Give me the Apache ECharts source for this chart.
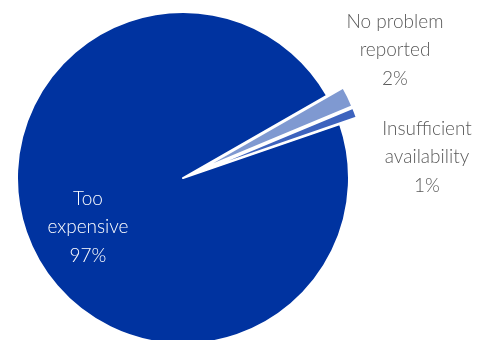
<!DOCTYPE html>
<html>
<head>
<meta charset="utf-8">
<script src="https://cdn.jsdelivr.net/npm/echarts@6/dist/echarts.min.js"></script>
<style>
  html, body { margin: 0; padding: 0; background: #fff; }
  #main { width: 482px; height: 340px; }
</style>
</head>
<body>
<div id="main"></div>
<script>
// categories and shares (%)
var aName = ['Too\nexpensive', 'No problem\nreported', 'Insufficient\navailability'];
var aValue = [97, 2, 1];
var aColor = ['#0033a0', '#7f99d1', '#3d63be'];

// where each label sits (text block centre)
var aLabelPos = [[88, 227], [395, 50], [427, 157]];

var oChart = echarts.init(document.getElementById('main'));

// slices: the two small ones are pulled out
var aSlice = [];
// labels: same values on an invisible twin pie, so the pulled out state does not move them
var aText = [];
for (var i = 0; i < aName.length; i++) {
    aSlice.push({
        name: aName[i],
        value: aValue[i],
        selected: i > 0,
        itemStyle: { color: aColor[i] }
    });
    aText.push({
        name: aName[i],
        value: aValue[i],
        label: { color: i == 0 ? '#ffffff' : '#5a5a5a' }
    });
}

var chartopt = {
    animation: false,
    series: [{
        type: 'pie',
        center: [183, 178],
        radius: 166,
        startAngle: 19,
        clockwise: true,
        selectedMode: 'multiple',
        selectedOffset: 18,
        itemStyle: {
            borderColor: '#ffffff',
            borderWidth: 2
        },
        select: {
            itemStyle: { borderColor: '#ffffff', borderWidth: 2 }
        },
        emphasis: { disabled: true },
        label: { show: false },
        labelLine: { show: false },
        data: aSlice
    }, {
        type: 'pie',
        center: [183, 178],
        radius: 166,
        startAngle: 19,
        clockwise: true,
        silent: true,
        selectedMode: false,
        avoidLabelOverlap: false,
        itemStyle: { color: 'rgba(0,0,0,0)', borderWidth: 0 },
        emphasis: { disabled: true },
        label: {
            position: 'inside',
            fontFamily: 'Lato',
            fontWeight: 300,
            fontSize: 19,
            lineHeight: 28.5,
            align: 'center',
            formatter: '{b}\n{c}%'
        },
        labelLine: { show: false },
        labelLayout: function (params) {
            var p = aLabelPos[params.dataIndex];
            return { x: p[0], y: p[1], align: 'center', verticalAlign: 'middle' };
        },
        data: aText
    }]
};

oChart.setOption(chartopt);
</script>
</body>
</html>
